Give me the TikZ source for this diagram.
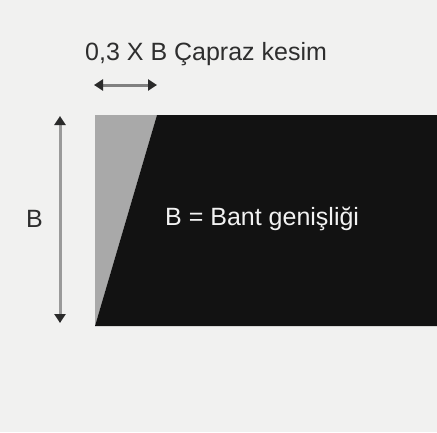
\documentclass[tikz,border=0pt]{standalone}
\usepackage{fontspec}
\setmainfont{Liberation Sans}
\usetikzlibrary{arrows.meta}
\definecolor{bg}{HTML}{F1F1F0}
\definecolor{band}{HTML}{121212}
\definecolor{cut}{HTML}{A9A9A9}
\definecolor{head}{HTML}{2A2A2A}
\definecolor{shaft}{HTML}{808080}
\definecolor{vshaft}{HTML}{9A9A9A}
\tikzset{
  dimarrow/.style={draw=shaft, line width=3pt, {Triangle[length=9pt,width=11pt,color=head,fill=head]}-{Triangle[length=9pt,width=11pt,color=head,fill=head]}},
  lbl/.style={font=\fontsize{25}{30}\selectfont, text=black!82, inner sep=0pt}
}
\begin{document}
\begin{tikzpicture}[x=1pt,y=-1pt]
\fill[bg] (0,0) rectangle (437,432);
\useasboundingbox (0,0) rectangle (437,432);
% cut (gray) triangle
\fill[cut] (95,115) -- (157,115) -- (95,326) -- cycle;
% band (black) trapezoid
\fill[band] (157,115) -- (437,115) -- (437,326) -- (95,326) -- cycle;
% coordinates
\coordinate (ht) at (94,85);
\coordinate (hb) at (157,85);
\coordinate (vt) at (60,116);
\coordinate (vb) at (60,323);
\draw[dimarrow, draw=vshaft] (vt) -- (vb);
\draw[dimarrow] (ht) -- (hb);
\node[lbl, anchor=base west] (t1) at (85,60) {0,3 X B Çapraz kesim};
\node[lbl, anchor=west] (t2) at (26,219) {B};
\node[lbl, anchor=west, text=white!95!black] (t3) at (165,219) {B = Bant genişliği};
\end{tikzpicture}
\end{document}
